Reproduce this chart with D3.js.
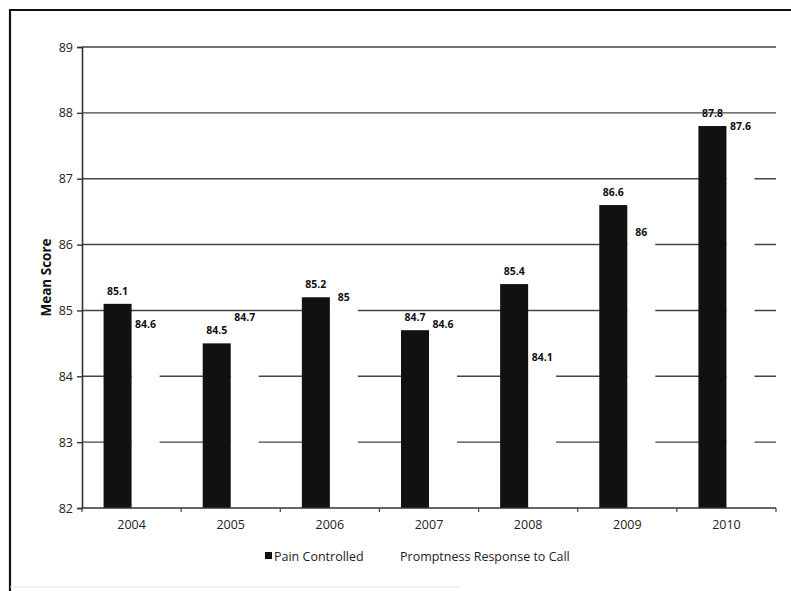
<!DOCTYPE html>
<html><head><meta charset="utf-8">
<script src="https://cdn.jsdelivr.net/npm/d3@7"></script>
<style>body{margin:0;background:#fff}svg{display:block}</style>
</head><body>
<svg id="c" width="791" height="591"></svg>
<script>
const years = ["2004","2005","2006","2007","2008","2009","2010"];
const painControlled = [85.1, 84.5, 85.2, 84.7, 85.4, 86.6, 87.8];
const promptness = [84.6, 84.7, 85, 84.6, 84.1, 86, 87.6];
const seriesNames = ["Pain Controlled", "Promptness Response to Call"];
const yTicks = [82, 83, 84, 85, 86, 87, 88, 89];

const svg = d3.select("#c");
const font = "'Open Sans', 'Noto Sans', sans-serif";
const L = 82, R = 776, T = 47, B = 508;

// frame
svg.append("path").attr("d", `M800,10 H10 V600`).attr("fill","none").attr("stroke","#111").attr("stroke-width",2.2);
svg.append("line").attr("x1",10).attr("x2",460).attr("y1",587).attr("y2",587).attr("stroke","#e4e4e4").attr("stroke-width",1);

const x = d3.scaleBand().domain(years).range([L, R]).paddingInner(0).paddingOuter(0);
const y = d3.scaleLinear().domain([82, 89]).range([B, T]);
const barW = 28;

// gridlines
svg.append("g").selectAll("line").data(yTicks.slice(1)).join("line")
  .attr("x1", L).attr("x2", R).attr("y1", d => y(d)).attr("y2", d => y(d))
  .attr("stroke", "#444").attr("stroke-width", 1.4);

const data = years.map((yr, i) => ({yr, a: painControlled[i], b: promptness[i]}));

// white bars (Promptness) occlude gridlines
svg.append("g").selectAll("rect").data(data).join("rect")
  .attr("x", d => x(d.yr) + x.bandwidth()/2)
  .attr("y", d => y(d.b) - 2)
  .attr("width", barW).attr("height", d => B - y(d.b) + 2)
  .attr("fill", "#fff");

// black bars
svg.append("g").selectAll("rect").data(data).join("rect")
  .attr("x", d => x(d.yr) + x.bandwidth()/2 - barW)
  .attr("y", d => y(d.a))
  .attr("width", barW).attr("height", d => B - y(d.a))
  .attr("fill", "#111");

// axes
const yAxis = d3.axisLeft(y).tickValues(yTicks).tickSize(5).tickFormat(d3.format("d"));
const gy = svg.append("g").attr("transform", `translate(${L},0)`).call(yAxis);
gy.select(".domain").attr("stroke","#333").attr("stroke-width",1.6);
gy.selectAll(".tick line").attr("stroke","#333").attr("stroke-width",1.4);
gy.selectAll("text").attr("font-family", font).attr("font-size", 12.5).attr("fill","#222").attr("dx", -1);

const xAxis = d3.axisBottom(x).tickSize(0).tickPadding(12);
const gx = svg.append("g").attr("transform", `translate(0,${B})`).call(xAxis);
gx.select(".domain").remove();
svg.append("line").attr("x1", L).attr("x2", R).attr("y1", B).attr("y2", B).attr("stroke","#333").attr("stroke-width",1.6);
gx.selectAll("text").attr("font-family", font).attr("font-size", 12.5).attr("fill","#222");
// boundary ticks
const bounds = years.map(d => x(d)).concat([R]);
svg.append("g").selectAll("line").data(bounds).join("line")
  .attr("x1", d => d).attr("x2", d => d).attr("y1", B).attr("y2", B + 4)
  .attr("stroke", "#444").attr("stroke-width", 1.2);

// value labels
const lbl = svg.append("g").attr("font-family", font).attr("font-size", 10.5).attr("font-weight", "bold").attr("fill", "#111").attr("text-anchor","middle");
lbl.selectAll(".la").data(data).join("text")
  .attr("x", d => x(d.yr) + x.bandwidth()/2 - barW/2)
  .attr("y", d => y(d.a) - 9)
  .text(d => d.a);
lbl.selectAll(".lb").data(data).join("text")
  .attr("x", d => x(d.yr) + x.bandwidth()/2 + barW/2)
  .attr("y", d => y(d.b) - 9)
  .text(d => d.b);

// y title
svg.append("text").attr("transform", `translate(51,${(T+B)/2}) rotate(-90)`)
  .attr("text-anchor","middle").attr("font-family", font).attr("font-size", 13.5)
  .attr("font-weight","bold").attr("fill","#111").text("Mean Score");

// legend
const lg = svg.append("g").attr("font-family", font).attr("font-size", 12.5).attr("fill","#222");
lg.append("rect").attr("x", 265).attr("y", 552).attr("width", 7).attr("height", 7).attr("fill", "#111");
lg.append("text").attr("x", 274).attr("y", 561).text(seriesNames[0]);
lg.append("rect").attr("x", 393).attr("y", 552).attr("width", 7).attr("height", 7).attr("fill", "#fff");
lg.append("text").attr("x", 400).attr("y", 561).text(seriesNames[1]);
</script>
</body></html>
